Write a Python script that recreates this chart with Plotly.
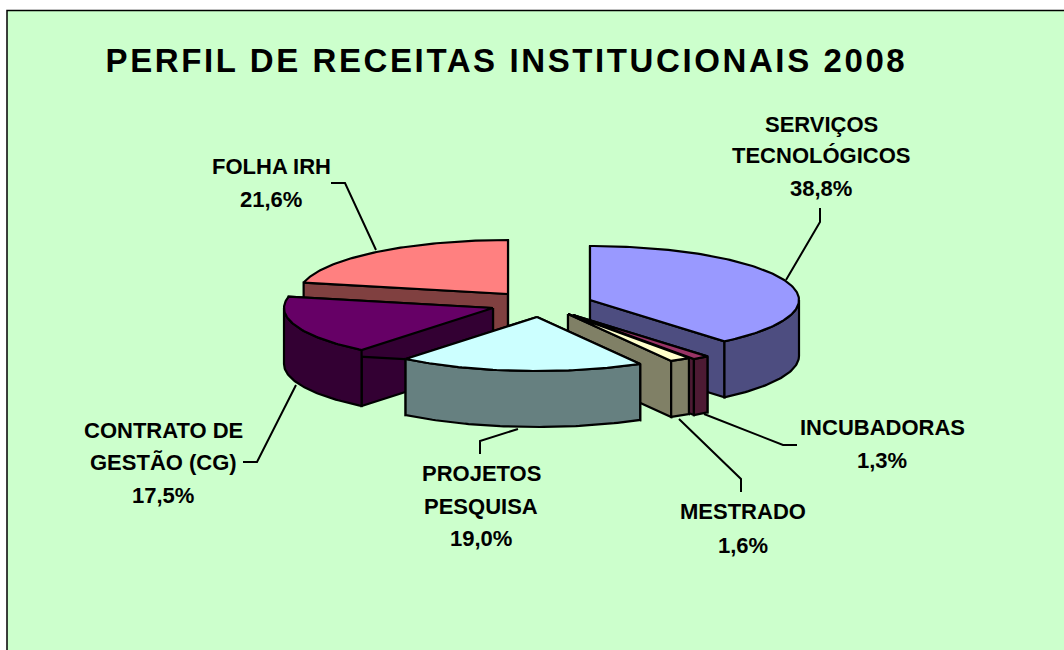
import numpy as np
import plotly.graph_objects as go

# --- chart data (clockwise from 12 o'clock) ---
names = [["SERVIÇOS", "TECNOLÓGICOS"], ["INCUBADORAS"], ["MESTRADO"],
         ["PROJETOS", "PESQUISA"], ["CONTRATO DE", "GESTÃO (CG)"], ["FOLHA IRH"]]
values = [38.8, 1.3, 1.6, 19.0, 17.5, 21.6]
title_text = "PERFIL DE RECEITAS INSTITUCIONAIS 2008"

# --- styling / layout ---
top_colors = ["#9999FF", "#993366", "#FFFFCC", "#CCFFFF", "#660066", "#FF8080"]
side_colors = ["#4D4D80", "#4D1A33", "#808066", "#668080", "#330033", "#804040"]
apex_x = [590, 573, 568, 537, 493, 508]
apex_y = [300, 315, 314, 317, 308, 294]
draw_order = [5, 4, 0, 1, 2, 3]
RX, RY, DEPTH = 209, 54, 56
label_x = [821, 882, 743, 481, 163, 271]
label_y = [[124, 155, 188], [427, 460], [511, 545], [473, 506, 538], [430, 462, 495], [166, 199]]
leader_x = [[786, 820, 820], [704, 783, 797], [679, 741, 741], [518, 480, 480], [296, 257, 243], [376, 345, 331]]
leader_y = [[280, 222, 208], [414, 445, 445], [419, 479, 492], [429, 441, 454], [385, 462, 462], [250, 183, 183]]
FONT = "Liberation Sans"

total = sum(values)
edges = np.concatenate([[0], np.cumsum(values)]) / total * 360.0


def rim(i, a0, a1, drop=0.0):
    a = np.radians(np.linspace(a0, a1, max(int(abs(a1 - a0)) + 2, 2)))
    return apex_x[i] + RX * np.sin(a), apex_y[i] - RY * np.cos(a) + drop


def poly(x, y, color):
    return go.Scatter(x=np.append(x, x[0]), y=np.append(y, y[0]), mode="lines", fill="toself",
                      fillcolor=color, line=dict(color="black", width=2.2),
                      hoverinfo="skip", showlegend=False)


fig = go.Figure()
for i in draw_order:
    a0, a1 = edges[i], edges[i + 1]
    # radial cut faces
    for ang in (a0, a1):
        ex, ey = rim(i, ang, ang)
        fig.add_trace(poly(
            np.array([apex_x[i], ex[0], ex[0], apex_x[i]]),
            np.array([apex_y[i], ey[0], ey[0] + DEPTH, apex_y[i] + DEPTH]), side_colors[i]))
    # outer wall (front half only)
    w0, w1 = max(a0, 90), min(a1, 270)
    if w1 > w0:
        tx, ty = rim(i, w0, w1)
        bx, by = rim(i, w1, w0, DEPTH)
        fig.add_trace(poly(np.concatenate([tx, bx]), np.concatenate([ty, by]), side_colors[i]))
    # top surface
    tx, ty = rim(i, a0, a1)
    fig.add_trace(poly(np.concatenate([[apex_x[i]], tx]), np.concatenate([[apex_y[i]], ty]), top_colors[i]))

for lx, ly in zip(leader_x, leader_y):
    fig.add_trace(go.Scatter(x=lx, y=ly, mode="lines", line=dict(color="black", width=2),
                             hoverinfo="skip", showlegend=False))

annotations = []
for i, lines in enumerate(names):
    texts = lines + [f"{values[i]:.1f}%".replace(".", ",")]
    for t, y in zip(texts, label_y[i]):
        annotations.append(dict(x=label_x[i], y=y, text=t, showarrow=False, xref="x", yref="y",
                                xanchor="center", yanchor="middle",
                                font=dict(family=FONT, size=22, color="black", weight="bold")))
annotations.append(dict(x=506, y=60, text=title_text, showarrow=False, xref="x", yref="y",
                        xanchor="center", yanchor="middle",
                        font=dict(family=FONT, size=33, color="black", weight="bold")))

fig.update_layout(
    width=1064, height=650, margin=dict(l=0, r=0, t=0, b=0),
    paper_bgcolor="white", plot_bgcolor="white", showlegend=False,
    xaxis=dict(range=[0, 1064], visible=False, fixedrange=True),
    yaxis=dict(range=[650, 0], visible=False, fixedrange=True),
    annotations=annotations,
    shapes=[dict(type="rect", xref="x", yref="y", x0=7, y0=10.5, x1=1080, y1=670,
                 fillcolor="#CCFFCC", line=dict(color="black", width=1.5), layer="below")],
)

post = """
document.body.style.margin = '0';
document.querySelectorAll('.annotation-text').forEach(function (t) {
  if (t.textContent.indexOf('PERFIL') === 0) { t.style.letterSpacing = '2.6px'; }
});
"""
fig.write_html("out.html", post_script=post, config=dict(displayModeBar=False))
